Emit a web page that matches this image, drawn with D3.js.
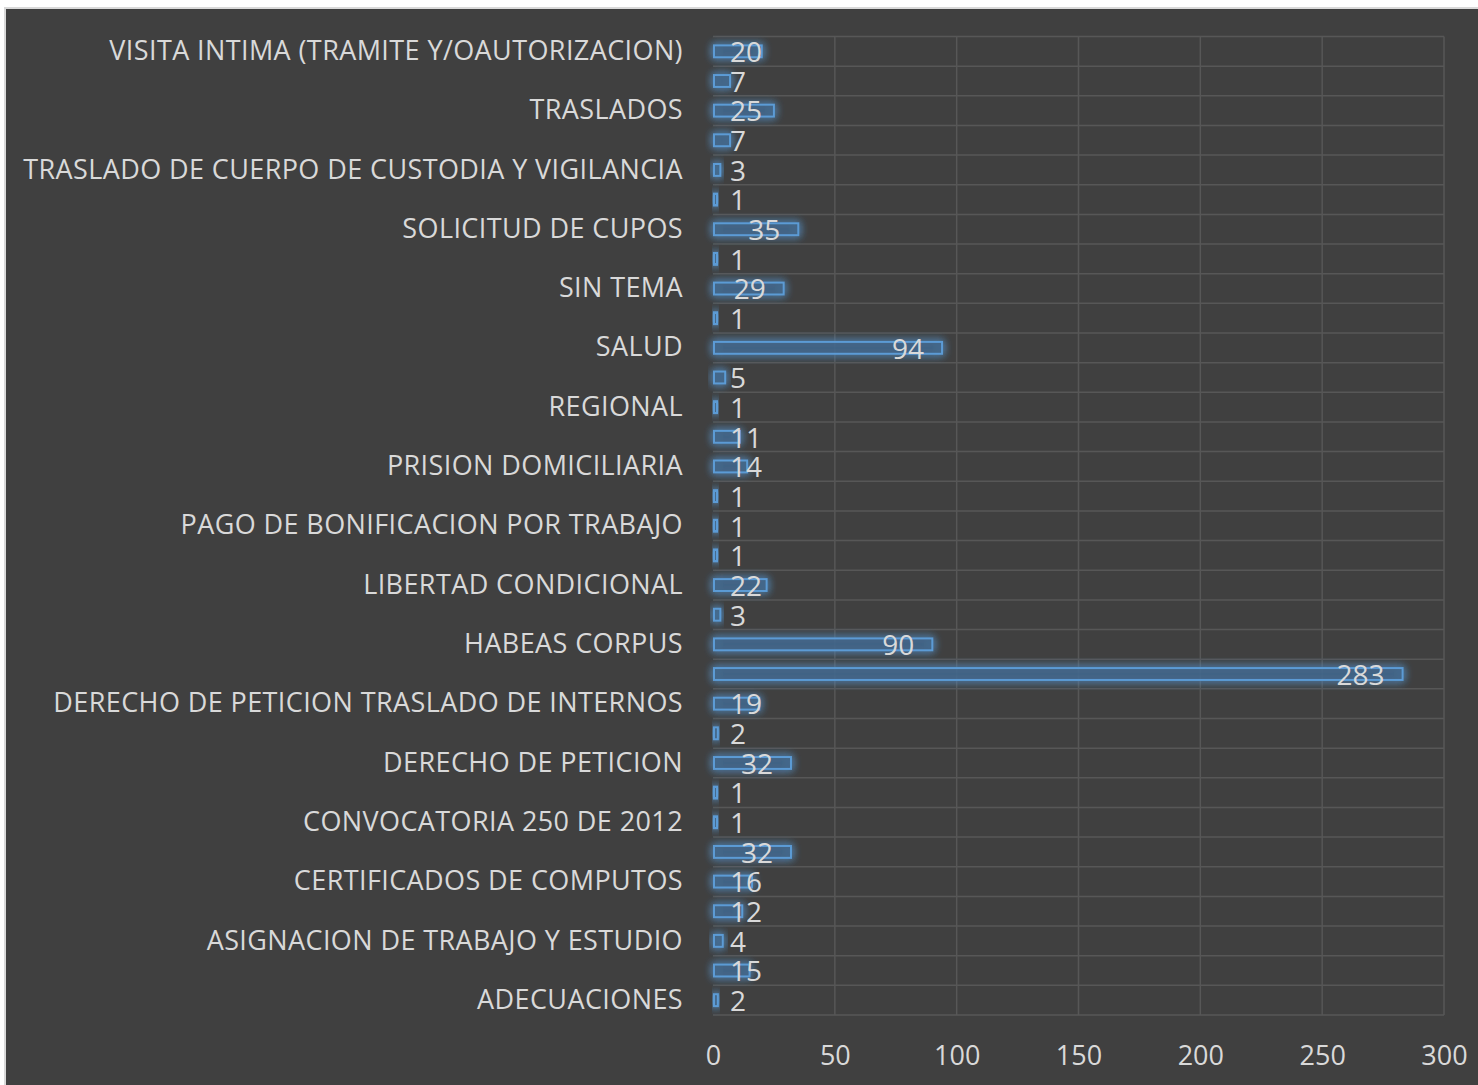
<!DOCTYPE html>
<html>
<head>
<meta charset="utf-8">
<script src="https://cdn.jsdelivr.net/npm/d3@7"></script>
<style>
body{margin:0;background:#fff;}
svg{display:block;}
</style>
</head>
<body>
<div id="chart"></div>
<script>
// categories top to bottom, only every other one shows a label
let categories=["VISITA INTIMA (TRAMITE Y/OAUTORIZACION)","","TRASLADOS","","TRASLADO DE CUERPO DE CUSTODIA Y VIGILANCIA","",
	"SOLICITUD DE CUPOS","","SIN TEMA","","SALUD","","REGIONAL","","PRISION DOMICILIARIA","",
	"PAGO DE BONIFICACION POR TRABAJO","","LIBERTAD CONDICIONAL","","HABEAS CORPUS","",
	"DERECHO DE PETICION TRASLADO DE INTERNOS","","DERECHO DE PETICION","","CONVOCATORIA 250 DE 2012","",
	"CERTIFICADOS DE COMPUTOS","","ASIGNACION DE TRABAJO Y ESTUDIO","","ADECUACIONES"];
let values=[20,7,25,7,3,1,35,1,29,1,94,5,1,11,14,1,1,1,22,3,90,283,19,2,32,1,1,32,16,12,4,15,2];
let xTicks=[0,50,100,150,200,250,300];

let width=1478,height=1085;
let svg=d3.select("#chart").append("svg").attr("width",width).attr("height",height);

// frame
svg.append("rect").attr("x",4).attr("y",7).attr("width",width-4).attr("height",height-7).attr("fill","#d9d9d9");
svg.append("rect").attr("x",6).attr("y",9).attr("width",width-6).attr("height",height-9).attr("fill","#404040");

let defs=svg.append("defs");
let glow=defs.append("filter").attr("id","glow").attr("x","-50%").attr("y","-100%").attr("width","200%").attr("height","300%");
glow.append("feGaussianBlur").attr("in","SourceGraphic").attr("stdDeviation",4).attr("result","b");
let m=glow.append("feMerge");
m.append("feMergeNode").attr("in","b");
m.append("feMergeNode").attr("in","b");
m.append("feMergeNode").attr("in","SourceGraphic");

let x0=713,x1=1444,plotTop=36.5,plotBottom=1015;
let idx=d3.range(values.length);
let font="'Open Sans',sans-serif";

let x=d3.scaleLinear().domain([0,300]).range([x0,x1]);
let y=d3.scaleBand().domain(idx).range([plotTop,plotBottom]).paddingInner(0.6).paddingOuter(0.3);
let yb=d3.scaleBand().domain(idx).range([plotTop,plotBottom]);

let grid=svg.append("g");
// horizontal lines between categories
grid.selectAll("line.h").data(d3.range(values.length+1)).join("line")
	.attr("x1",x0).attr("x2",x1)
	.attr("y1",d=>plotTop+d*yb.step()).attr("y2",d=>plotTop+d*yb.step())
	.attr("stroke","#575757").attr("stroke-width",1.5);
grid.selectAll("line.v").data(xTicks.slice(1)).join("line")
	.attr("x1",d=>x(d)).attr("x2",d=>x(d))
	.attr("y1",plotTop).attr("y2",plotBottom)
	.attr("stroke","#575757").attr("stroke-width",1.5);

// x axis
let xAxis=svg.append("g").attr("transform","translate(0,"+(plotBottom+41)+")")
	.call(d3.axisBottom(x).tickValues(xTicks).tickSize(0).tickPadding(0));
xAxis.select(".domain").remove();
xAxis.selectAll("text").attr("fill","#d9d9d9").style("font-family",font).style("font-size","27px").attr("dy","0.35em");

// y axis labels
let yAxis=svg.append("g").attr("transform","translate("+(x0-30)+",0)")
	.call(d3.axisLeft(yb).tickSize(0).tickPadding(0).tickFormat(i=>categories[i]));
yAxis.select(".domain").remove();
yAxis.selectAll("text").attr("fill","#d9d9d9").style("font-family",font).style("font-size","27px").style("letter-spacing","0.4px");

// bars
svg.append("g").selectAll("rect").data(values).join("rect")
	.attr("x",x(0)+1)
	.attr("y",(d,i)=>y(i))
	.attr("width",d=>Math.max(x(d)-x(0)-1,3))
	.attr("height",y.bandwidth())
	.attr("fill","#3e5f80").attr("fill-opacity",0.55)
	.attr("stroke","#5b9bd5").attr("stroke-width",2)
	.attr("filter","url(#glow)");

// data labels: inside end, but never left of a minimum position
let labels=svg.append("g").selectAll("text").data(values).join("text")
	.attr("y",(d,i)=>yb(i)+yb.bandwidth()/2+1)
	.attr("dy","0.35em")
	.attr("fill","#d9d9d9")
	.style("font-family",font).style("font-size","28px")
	.text(d=>d);
labels.attr("x",function(d){
	let w=this.getComputedTextLength();
	return Math.max(x(0)+17,x(d)-18-w);
});
</script>
</body>
</html>
